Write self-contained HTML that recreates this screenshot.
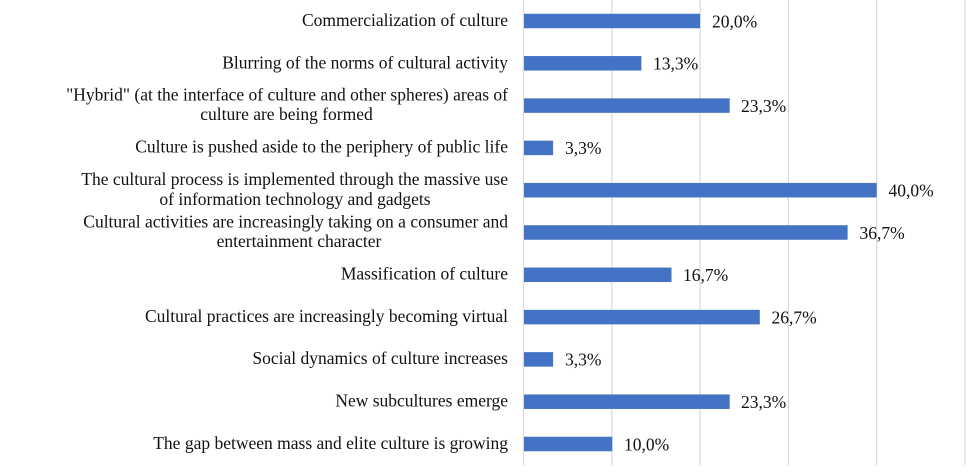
<!DOCTYPE html>
<html><head><meta charset="utf-8"><style>
html,body{margin:0;padding:0;background:#fff;}
svg{display:block;}
text{font-family:"Liberation Serif","Times New Roman",serif;font-size:17.5px;fill:#111;}
</style></head><body>
<svg width="974" height="473" viewBox="0 0 974 473" xmlns="http://www.w3.org/2000/svg">
<rect width="974" height="473" fill="#fff"/>
<g stroke="#d9d9d9" stroke-width="1.2">
<line x1="523.5" y1="0" x2="523.5" y2="465"/>
<line x1="611.8" y1="0" x2="611.8" y2="465"/>
<line x1="700.1" y1="0" x2="700.1" y2="465"/>
<line x1="788.4" y1="0" x2="788.4" y2="465"/>
<line x1="876.7" y1="0" x2="876.7" y2="465"/>
<line x1="965" y1="0" x2="965" y2="465"/>
</g>
<g fill="#4472C4">
<rect x="524" y="13.75" width="176.1" height="14.5"/>
<rect x="524" y="56.05" width="117.4" height="14.5"/>
<rect x="524" y="98.35" width="205.7" height="14.5"/>
<rect x="524" y="140.65" width="29.1" height="14.5"/>
<rect x="524" y="182.95" width="352.7" height="14.5"/>
<rect x="524" y="225.25" width="323.6" height="14.5"/>
<rect x="524" y="267.55" width="147.5" height="14.5"/>
<rect x="524" y="309.85" width="235.8" height="14.5"/>
<rect x="524" y="352.15" width="29.1" height="14.5"/>
<rect x="524" y="394.45" width="205.7" height="14.5"/>
<rect x="524" y="436.75" width="88.3" height="14.5"/>
</g>
<g>
<text x="712" y="27.3">20,0%</text>
<text x="653" y="69.6">13,3%</text>
<text x="741" y="111.9">23,3%</text>
<text x="565" y="154.2">3,3%</text>
<text x="888.5" y="196.5">40,0%</text>
<text x="859.5" y="238.8">36,7%</text>
<text x="683" y="281.1">16,7%</text>
<text x="771.5" y="323.4">26,7%</text>
<text x="565" y="365.7">3,3%</text>
<text x="741" y="408">23,3%</text>
<text x="624" y="450.3">10,0%</text>
</g>
<g text-anchor="end">
<text x="508" y="26">Commercialization of culture</text>
<text x="508" y="68.3">Blurring of the norms of cultural activity</text>
<text x="508" y="100.4">"Hybrid" (at the interface of culture and other spheres) areas of</text>
<text x="508" y="152.5">Culture is pushed aside to the periphery of public life</text>
<text x="508" y="185.2">The cultural process is implemented through the massive use</text>
<text x="508" y="227.3">Cultural activities are increasingly taking on a consumer and</text>
<text x="508" y="279.6">Massification of culture</text>
<text x="508" y="321.9">Cultural practices are increasingly becoming virtual</text>
<text x="508" y="364.2">Social dynamics of culture increases</text>
<text x="508" y="406.5">New subcultures emerge</text>
<text x="508" y="448.8">The gap between mass and elite culture is growing</text>
</g>
<g text-anchor="middle">
<text x="286.5" y="120">culture are being formed</text>
<text x="295" y="204.8">of information technology and gadgets</text>
<text x="299" y="246.9">entertainment character</text>
</g>
</svg>
</body></html>
